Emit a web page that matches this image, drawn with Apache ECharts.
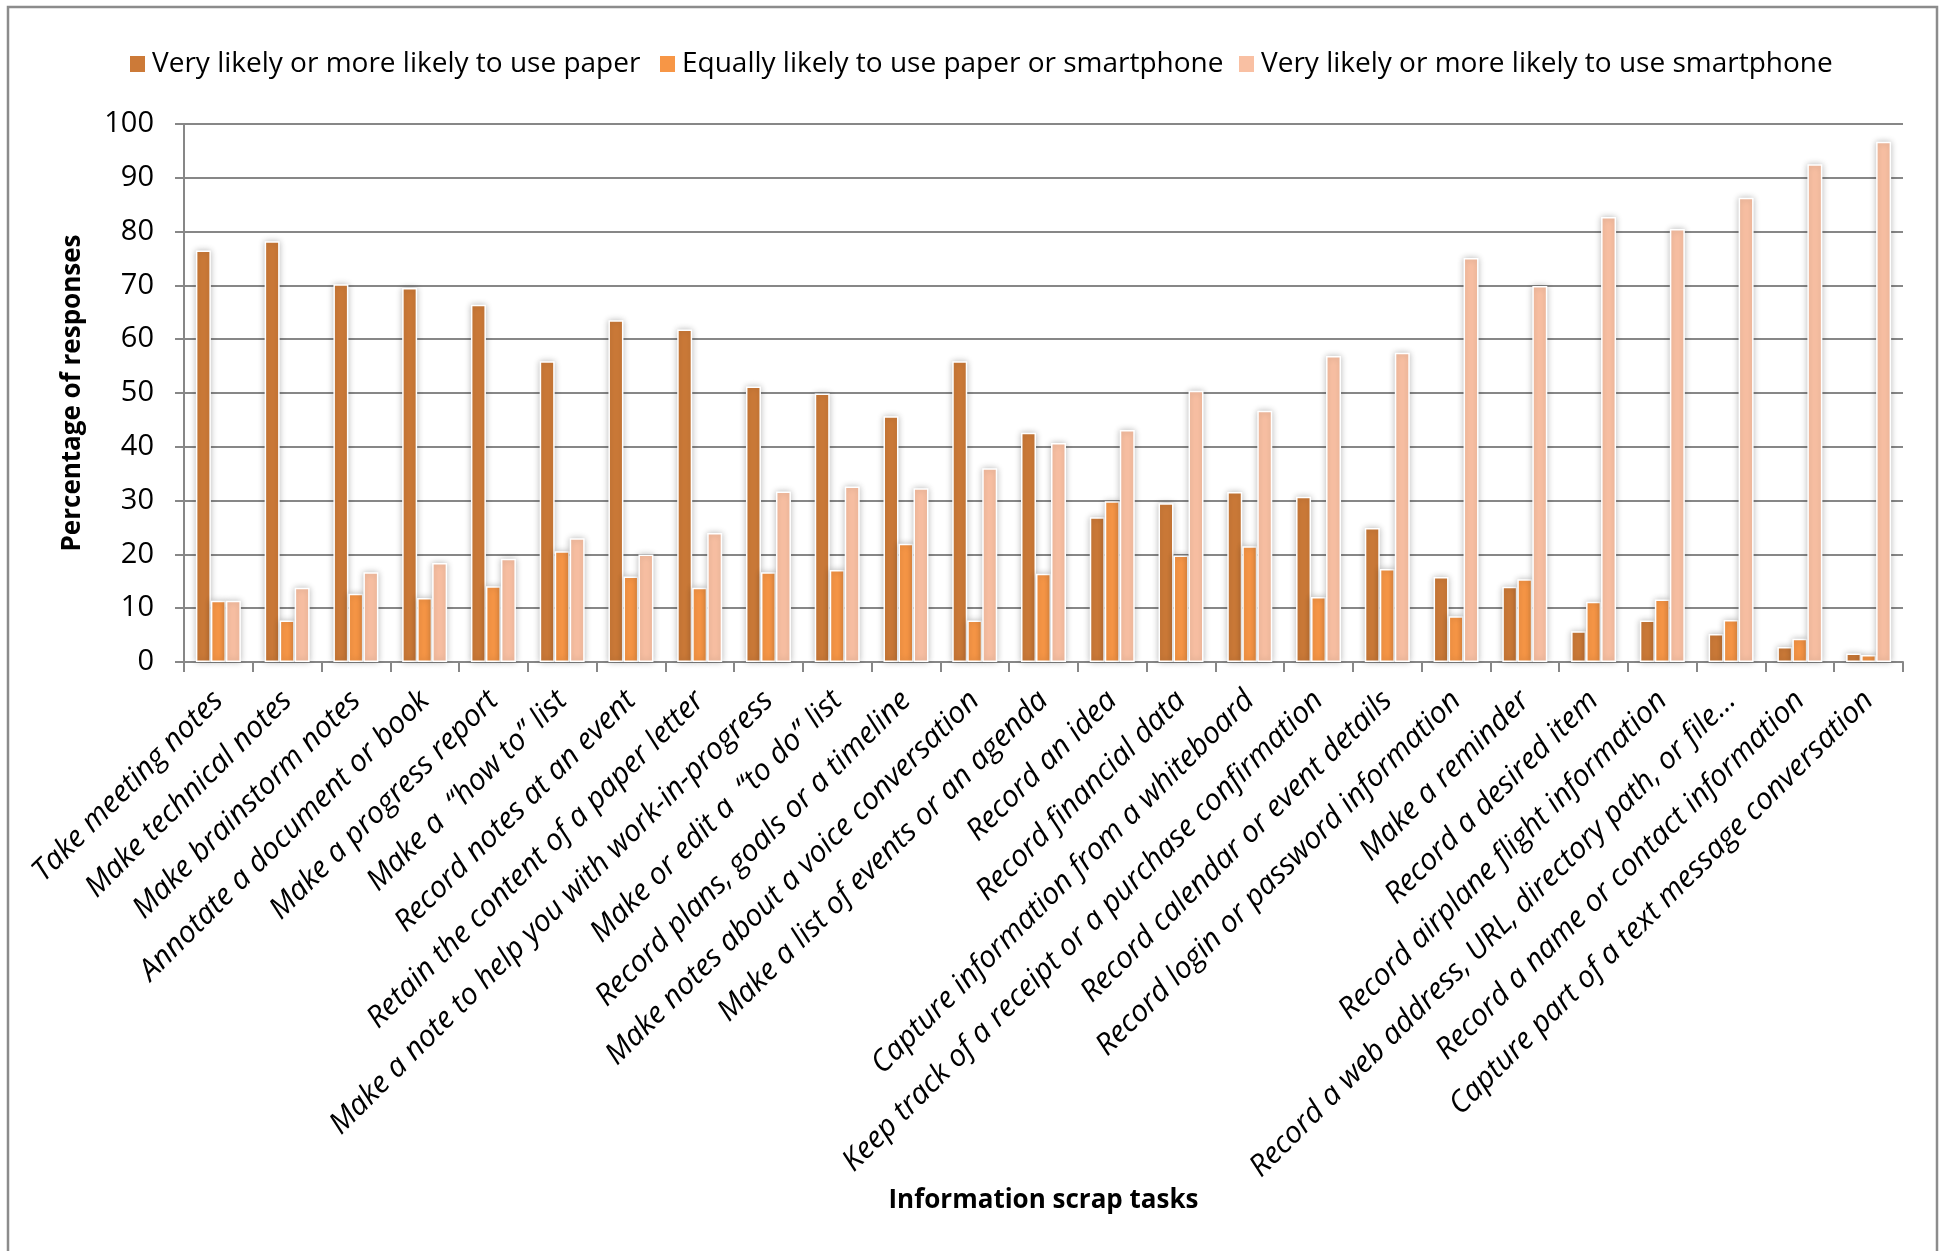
<!DOCTYPE html>
<html lang="en">
<head>
    <meta charset="UTF-8">
    <title>Information scrap tasks</title>
    <script src="https://cdn.jsdelivr.net/npm/echarts@6/dist/echarts.min.js"></script>
    <style>
        html, body { margin: 0; padding: 0; background: #fff; }
        #main { width: 1940px; height: 1251px; }
    </style>
</head>
<body>
    <div id="main"></div>
    <script>
        // 任务类别
        var categories = [
            'Take meeting notes',
            'Make technical notes',
            'Make brainstorm notes',
            'Annotate a document or book',
            'Make a progress report',
            'Make a  \u201Chow to\u201D list',
            'Record notes at an event',
            'Retain the content of a paper letter',
            'Make a note to help you with work-in-progress',
            'Make or edit a  \u201Cto do\u201D list',
            'Record plans, goals or a timeline',
            'Make notes about a voice conversation',
            'Make a list of events or an agenda',
            'Record an idea',
            'Record financial data',
            'Capture information from a whiteboard',
            'Keep track of a receipt or a purchase confirmation',
            'Record calendar or event details',
            'Record login or password information',
            'Make a reminder',
            'Record a desired item',
            'Record airplane flight information',
            'Record a web address, URL, directory path, or file\u2026',
            'Record a name or contact information',
            'Capture part of a text message conversation'
        ];
        var seriesNames = [
            'Very likely or more likely to use paper',
            'Equally likely to use paper or smartphone',
            'Very likely or more likely to use smartphone'
        ];
        var paperValues = [76.5, 78.2, 70.2, 69.5, 66.4, 55.9, 63.5, 61.8, 51.2, 49.9, 45.7, 55.9, 42.6,
            26.9, 29.5, 31.6, 30.7, 24.9, 15.8, 14.0, 5.7, 7.7, 5.2, 2.8, 1.6];
        var equalValues = [11.4, 7.7, 12.7, 11.9, 14.1, 20.6, 15.9, 13.8, 16.7, 17.1, 22.0, 7.7, 16.4,
            29.9, 19.8, 21.5, 12.1, 17.3, 8.5, 15.4, 11.2, 11.6, 7.8, 4.3, 1.3];
        var smartValues = [11.4, 13.8, 16.7, 18.4, 19.2, 23.0, 20.0, 24.0, 31.7, 32.6, 32.3, 36.0, 40.7,
            43.1, 50.4, 46.7, 56.9, 57.5, 75.1, 69.9, 82.7, 80.5, 86.3, 92.5, 96.7];
        var colors = ['#CC7A38', '#F79646', '#F9C0A3'];

        var font = "'Open Sans', 'Liberation Sans', sans-serif";
        var myChart = echarts.init(document.getElementById('main'), null, { renderer: 'canvas' });

        function makeBar(name, data, color) {
            return {
                name: name,
                type: 'bar',
                data: data,
                barWidth: 15,
                barGap: '0%',
                itemStyle: {
                    color: color,
                    borderColor: '#fff',
                    borderWidth: 1.5,
                    shadowBlur: 6,
                    shadowColor: 'rgba(0,0,0,0.25)'
                }
            };
        }

        function makeLegend(idx, left) {
            return {
                data: [seriesNames[idx]],
                left: left,
                top: 43,
                icon: 'rect',
                itemWidth: 15,
                itemHeight: 16,
                itemStyle: { borderWidth: 0, shadowBlur: 0 },
                textStyle: { fontFamily: font, fontSize: 28, color: '#000', lineHeight: 32, padding: [0, 0, 0, 2] }
            };
        }

        var option = {
            animation: false,
            backgroundColor: '#fff',
            color: colors,
            graphic: [{
                type: 'rect',
                shape: { x: 8, y: 7, width: 1929, height: 1300 },
                style: { fill: 'none', stroke: '#8c8c8c', lineWidth: 2.5 },
                silent: true
            }],
            legend: [makeLegend(0, 125), makeLegend(1, 655), makeLegend(2, 1234)],
            grid: { left: 184, right: 37, top: 124, bottom: 589, containLabel: false },
            xAxis: {
                type: 'category',
                data: categories,
                name: 'Information scrap tasks',
                nameLocation: 'middle',
                nameGap: 526,
                nameTextStyle: { fontFamily: font, fontSize: 26, fontWeight: 'bold', color: '#000' },
                axisLine: { lineStyle: { color: '#878787', width: 2 } },
                axisTick: { show: true, length: 10, lineStyle: { color: '#878787', width: 2 } },
                axisLabel: {
                    interval: 0,
                    rotate: 45,
                    margin: 34,
                    fontFamily: font,
                    fontStyle: 'italic',
                    fontSize: 30,
                    color: '#000'
                }
            },
            yAxis: {
                type: 'value',
                min: 0,
                max: 100,
                interval: 10,
                name: 'Percentage of responses',
                nameLocation: 'middle',
                nameGap: 98,
                nameTextStyle: { fontFamily: font, fontSize: 26, fontWeight: 'bold', color: '#000' },
                axisLine: { show: true, lineStyle: { color: '#878787', width: 2 } },
                axisTick: { show: true, length: 9, lineStyle: { color: '#878787', width: 2 } },
                axisLabel: { margin: 30, fontFamily: font, fontSize: 29, color: '#000' },
                splitLine: { lineStyle: { color: '#878787', width: 2 } }
            },
            series: [
                makeBar(seriesNames[0], paperValues, colors[0]),
                makeBar(seriesNames[1], equalValues, colors[1]),
                makeBar(seriesNames[2], smartValues, colors[2])
            ]
        };

        myChart.setOption(option);
    </script>
</body>
</html>
